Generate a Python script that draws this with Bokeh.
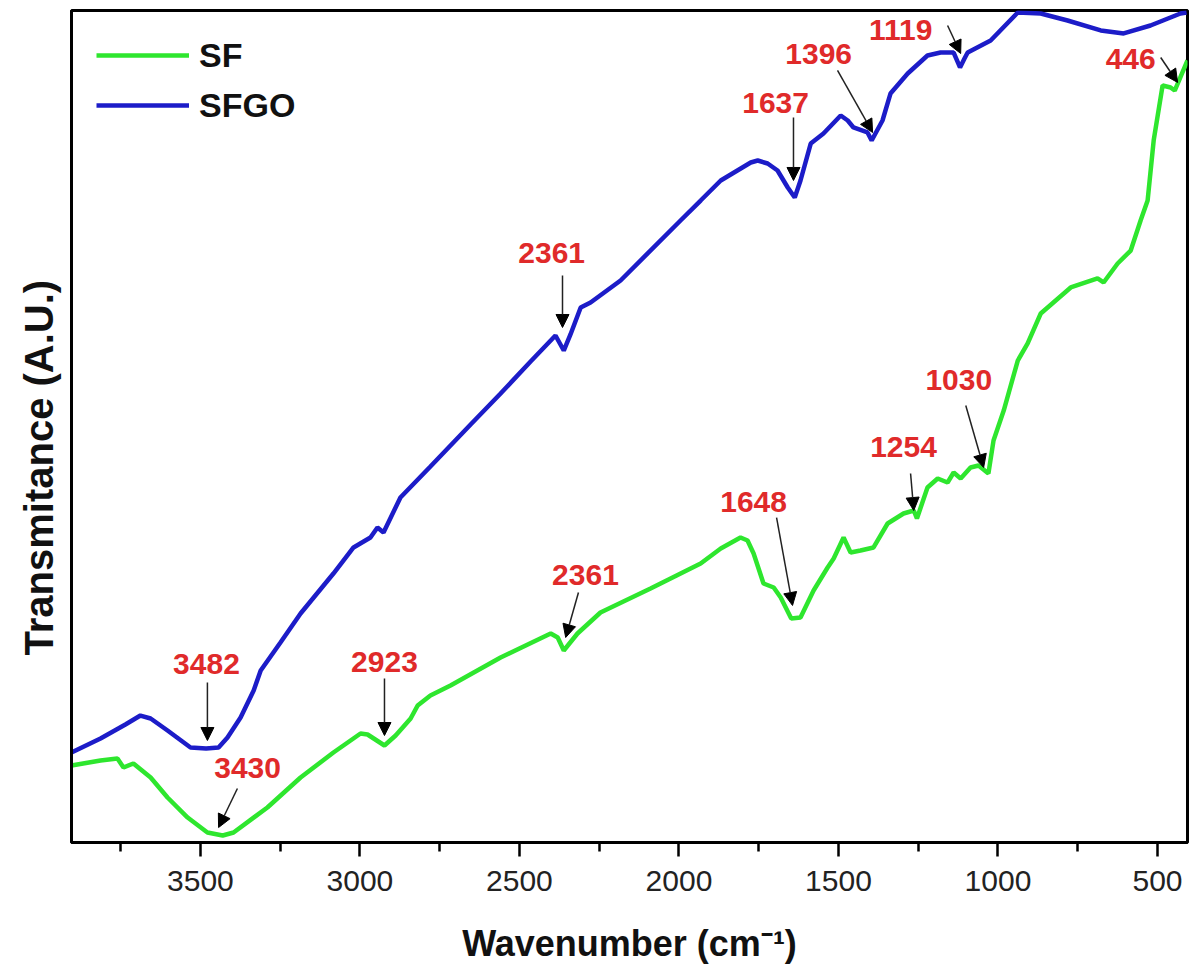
from bokeh.plotting import figure
from bokeh.models import Range1d, FixedTicker, Arrow, NormalHead, ColumnDataSource, Legend, LegendItem, Title
from bokeh.core.properties import value
from bokeh.embed import file_html
from bokeh.resources import INLINE

# ---------------- data ----------------
sfgo_wn = [3904, 3813, 3735, 3688, 3656, 3603, 3531, 3482, 3443, 3415, 3374, 3333, 3311, 3249,
           3186, 3083, 3020, 2967, 2945, 2926, 2873, 2779, 2653, 2559, 2465, 2387, 2361, 2340,
           2308, 2277, 2183, 1995, 1932, 1869, 1775, 1753, 1722, 1691, 1659, 1637, 1619, 1587,
           1547, 1493, 1471, 1453, 1409, 1396, 1362, 1337, 1283, 1221, 1180, 1139, 1119, 1105,
           1095, 1023, 938, 866, 782, 678, 606, 522, 428, 409]
sfgo_t = [10.82, 12.50, 14.18, 15.26, 14.90, 13.46, 11.42, 11.30, 11.42, 12.62, 15.02, 18.27, 20.67, 24.04,
          27.52, 32.33, 35.46, 36.66, 37.86, 37.26, 41.47, 45.19, 50.24, 53.97, 57.81, 60.94, 59.13, 61.06,
          64.30, 64.90, 67.55, 74.76, 77.16, 79.57, 81.73, 81.97, 81.61, 80.77, 78.73, 77.52, 79.57, 84.01,
          85.22, 87.38, 86.78, 85.94, 85.34, 84.38, 86.78, 90.02, 92.43, 94.59, 94.95, 94.95, 93.15, 94.23,
          94.95, 96.39, 99.76, 99.64, 98.80, 97.60, 97.24, 98.20, 99.64, 99.76]

sf_wn = [3904, 3813, 3760, 3741, 3710, 3656, 3603, 3540, 3478, 3430, 3396, 3290, 3186, 3083,
         2998, 2976, 2923, 2888, 2841, 2819, 2779, 2716, 2559, 2402, 2380, 2361, 2318, 2246,
         2089, 1932, 1869, 1807, 1785, 1766, 1735, 1703, 1681, 1648, 1619, 1578, 1534, 1515,
         1484, 1462, 1431, 1390, 1346, 1296, 1264, 1254, 1221, 1189, 1158, 1139, 1117, 1086,
         1061, 1030, 1014, 982, 938, 907, 866, 772, 688, 669, 625, 584, 553, 531, 512, 484,
         459, 446, 406]
sf_t = [9.25, 9.86, 10.10, 9.01, 9.50, 7.81, 5.41, 3.00, 1.20, 0.84, 1.20, 4.21, 7.81, 10.82,
        13.10, 12.98, 11.66, 12.86, 14.90, 16.47, 17.67, 18.87, 22.24, 25.12, 24.64, 23.08, 25.12, 27.64,
        30.53, 33.53, 35.34, 36.66, 36.30, 34.74, 31.13, 30.65, 29.45, 26.92, 27.04, 30.29, 33.05, 34.13,
        36.66, 34.86, 35.10, 35.46, 38.34, 39.54, 39.90, 38.94, 42.67, 43.75, 43.27, 44.47, 43.75, 45.07,
        45.31, 44.35, 48.32, 51.92, 57.93, 59.98, 63.58, 66.71, 67.79, 67.31, 69.59, 71.15, 74.76, 77.16,
        84.38, 90.99, 90.75, 90.38, 93.99]

x_ticks = [3500, 3000, 2500, 2000, 1500, 1000, 500]
x_minor = [3750, 3250, 2750, 2250, 1750, 1250, 750]

# peak annotations (label, text position, arrow start, arrow end) in data units
ann_text = ["3482", "2923", "3430", "2361", "2361", "1648", "1254", "1030", "1637", "1396", "1119", "446"]
ann_tx = [3481, 2923, 3352, 2399, 2293, 1766, 1296, 1123, 1697, 1562, 1305, 584]
ann_ty = [21.51, 21.75, 9.01, 70.91, 32.21, 40.87, 47.48, 55.53, 88.94, 94.83, 97.60, 94.23]
arr_x0 = [3478, 2923, 3384, 2365, 2315, 1694, 1274, 1101, 1641, 1503, 1158, 490]
arr_y0 = [19.23, 19.71, 6.49, 68.15, 30.05, 39.06, 44.35, 52.52, 87.14, 92.79, 98.20, 94.35]
arr_x1 = [3478, 2923, 3443, 2365, 2355, 1644, 1264, 1045, 1641, 1393, 1117, 437]
arr_y1 = [12.26, 12.86, 1.80, 61.90, 24.64, 28.49, 39.90, 45.07, 79.57, 85.34, 94.83, 91.35]

y_title = "Transmitance (A.U.)"
x_title = "Wavenumber (cm\u207b\u00b9)"

# ---------------- figure ----------------
FONT = "Liberation Sans"
p = figure(width=1192, height=973, output_backend="svg", toolbar_location=None,
           x_range=Range1d(3904, 406), y_range=Range1d(0, 100),
           min_border_left=71, min_border_right=5, min_border_top=10, min_border_bottom=131)
p.background_fill_color = "white"
p.border_fill_color = "white"
p.outline_line_color = "black"
p.outline_line_width = 3
p.xgrid.visible = False
p.ygrid.visible = False

xa = p.xaxis[0]
xa.ticker = FixedTicker(ticks=x_ticks, minor_ticks=x_minor)
xa.axis_line_width = 3
xa.major_tick_out = 14
xa.major_tick_in = 0
xa.minor_tick_out = 9
xa.minor_tick_in = 0
xa.major_tick_line_width = 2.5
xa.minor_tick_line_width = 2.5
xa.major_label_text_font = FONT
xa.major_label_text_font_size = "30px"
xa.major_label_text_color = "#222222"
xa.major_label_standoff = 14
xa.axis_label = x_title
xa.axis_label_text_font = FONT
xa.axis_label_text_font_size = "36px"
xa.axis_label_text_font_style = "bold"
xa.axis_label_text_color = "#111111"
xa.axis_label_standoff = 29

ya = p.yaxis[0]
ya.ticker = FixedTicker(ticks=[])
ya.axis_line_width = 3
ya.major_tick_out = 0
ya.major_tick_in = 0
ya.minor_tick_out = 0
ya.minor_tick_in = 0
ya.major_label_standoff = 0
ya.axis_label_standoff = 0

# y title as a left-side title, shifted along the axis like the original
p.add_layout(Title(text=y_title, align="left", offset=187, standoff=22,
                   text_font=FONT, text_font_size="40px", text_font_style="bold",
                   text_color="#111111"), "left")

r_sf = p.line(sf_wn, sf_t, line_color="#2ee62e", line_width=4.5)
r_sfgo = p.line(sfgo_wn, sfgo_t, line_color="#1c1cc8", line_width=4.5)

legend = Legend(items=[LegendItem(label="SF", renderers=[r_sf]),
                       LegendItem(label="SFGO", renderers=[r_sfgo])],
                location="top_left", margin=25, padding=0, spacing=10,
                glyph_width=93, glyph_height=40, label_standoff=10,
                label_text_font=FONT, label_text_font_size="34px", label_text_font_style="bold",
                label_text_color="#111111", border_line_color=None, background_fill_alpha=0)
p.add_layout(legend)

src_txt = ColumnDataSource(dict(x=ann_tx, y=ann_ty, text=ann_text))
p.text(x="x", y="y", text="text", source=src_txt, text_align="center", text_baseline="middle",
       text_font=value(FONT), text_font_style="bold", text_font_size="30px", text_color="#e02a2a")

src_arr = ColumnDataSource(dict(x0=arr_x0, y0=arr_y0, x1=arr_x1, y1=arr_y1))
p.add_layout(Arrow(x_start="x0", y_start="y0", x_end="x1", y_end="y1", source=src_arr,
                   line_color="#222222", line_width=1.5,
                   end=NormalHead(size=13, fill_color="black", line_color="black", line_width=1)))

open("out.html", "w").write(file_html(p, INLINE))
